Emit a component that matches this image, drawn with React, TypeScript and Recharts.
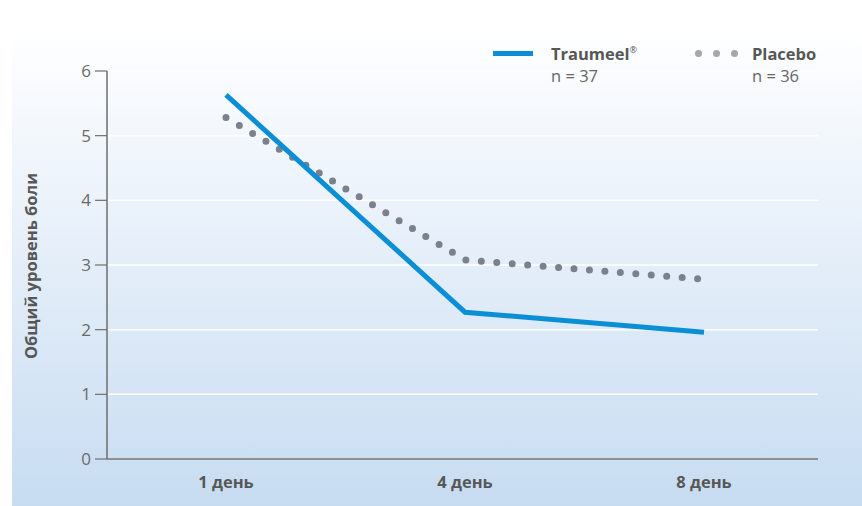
import React from 'react';
import { LineChart, Line, XAxis, YAxis, CartesianGrid } from 'recharts';

const days = ['1 день', '4 день', '8 день'];
const traumeel = [5.63, 2.27, 1.96];
const placebo = [5.28, 3.08, 2.78];
const yTicks = [0, 1, 2, 3, 4, 5, 6];

const data = days.map((day, i) => ({ day, traumeel: traumeel[i], placebo: placebo[i] }));

const FONT = '"Open Sans", "Noto Sans", sans-serif';

const App: React.FC = () => {
  return (
    <div style={{ position: 'absolute', left: 0, top: 0, width: 862, height: 506, background: '#fff', fontFamily: FONT }}>
      <div
        style={{
          position: 'absolute',
          left: 12,
          top: 28,
          width: 850,
          height: 478,
          background: 'linear-gradient(to bottom, #ffffff 0%, #e9f1fa 40%, #c7dcf1 100%)',
        }}
      />
      <div style={{ position: 'absolute', left: 0, top: 0 }}>
        <LineChart width={862} height={506} data={data} margin={{ top: 71, right: 44, bottom: 17, left: 47 }}>
          <CartesianGrid vertical={false} stroke="#ffffff" strokeWidth={1.5} />
          <XAxis
            dataKey="day"
            height={30}
            padding={{ left: 119, right: 114 }}
            tickLine={false}
            axisLine={{ stroke: '#6e6e6e', strokeWidth: 1.5 }}
            tick={{ fill: '#575757', fontSize: 16.5, fontWeight: 700, fontFamily: FONT }}
            tickMargin={11}
          />
          <YAxis
            width={60}
            domain={[0, 6]}
            ticks={yTicks}
            interval={0}
            axisLine={{ stroke: '#6e6e6e', strokeWidth: 1.5 }}
            tickLine={{ stroke: '#6e6e6e', strokeWidth: 1.2 }}
            tickSize={12}
            tickMargin={4}
            tick={{ fill: '#6a6a6a', fontSize: 17, fontFamily: FONT }}
          />
          <Line
            type="linear"
            dataKey="placebo"
            stroke="#7b808d"
            strokeWidth={7}
            strokeLinecap="round"
            strokeDasharray="0 15.5"
            dot={false}
            isAnimationActive={false}
          />
          <Line
            type="linear"
            dataKey="traumeel"
            stroke="#0a8fd6"
            strokeWidth={5}
            dot={false}
            isAnimationActive={false}
          />
        </LineChart>
      </div>

      <div
        style={{
          position: 'absolute',
          left: 30,
          top: 266,
          transform: 'translate(-50%, -50%) rotate(-90deg)',
          whiteSpace: 'nowrap',
          fontSize: 16.5,
          fontWeight: 700,
          color: '#575757',
        }}
      >
        Общий уровень боли
      </div>

      {/* legend */}
      <div style={{ position: 'absolute', left: 493, top: 51, width: 40, height: 5, background: '#0a8fd6' }} />
      <div style={{ position: 'absolute', left: 551, top: 44, fontSize: 16.5, fontWeight: 700, color: '#575757', lineHeight: '20px', height: 20 }}>
        Traumeel<span style={{ fontSize: 9, fontWeight: 400, lineHeight: 0, verticalAlign: 7 }}>®</span>
      </div>
      <div style={{ position: 'absolute', left: 551, top: 66, fontSize: 16.5, color: '#666', lineHeight: '20px' }}>n = 37</div>
      {[698, 716, 734].map((x) => (
        <div
          key={x}
          style={{ position: 'absolute', left: x - 3.5, top: 49.5, width: 7, height: 7, borderRadius: '50%', background: '#a4a7ae' }}
        />
      ))}
      <div style={{ position: 'absolute', left: 752, top: 44, fontSize: 16.5, fontWeight: 700, color: '#575757', lineHeight: '20px' }}>Placebo</div>
      <div style={{ position: 'absolute', left: 752, top: 66, fontSize: 16.5, color: '#666', lineHeight: '20px' }}>n = 36</div>
    </div>
  );
};

export default App;
